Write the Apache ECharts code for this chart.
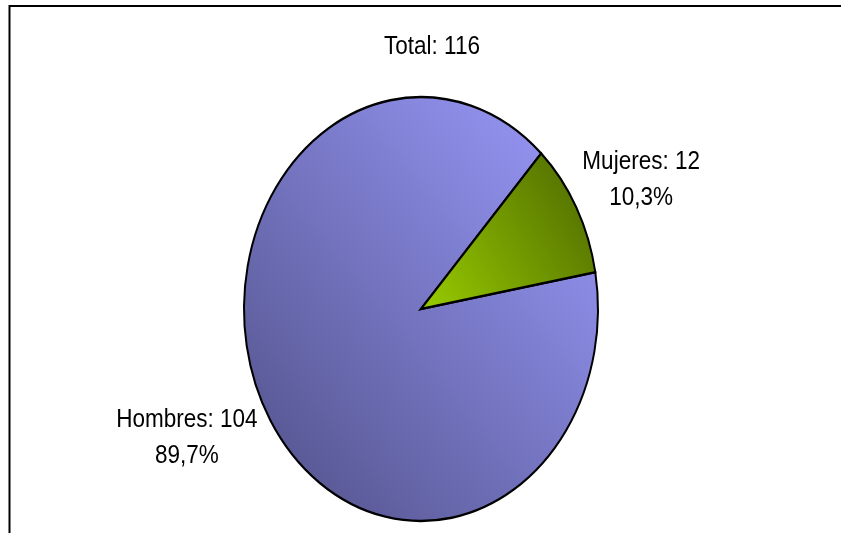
<!DOCTYPE html>
<html>
<head>
<meta charset="utf-8">
<script src="https://cdn.jsdelivr.net/npm/echarts@6/dist/echarts.min.js"></script>
<style>
  html, body { margin: 0; padding: 0; background: #fff; }
  #chart { width: 841px; height: 533px; }
</style>
</head>
<body>
<div id="chart"></div>
<script>
const categories = ["Hombres", "Mujeres"];
const values = [104, 12];

const total = values.reduce((a, b) => a + b, 0);
const FONT = '"Liberation Sans", Arial, sans-serif';
const FONT_SIZE = 25;
const TEXT_SX = 0.9; // the original font is a bit condensed
// [light, dark] for each slice
const COLORS = [
  ["#9c9cff", "#4f4f86"],
  ["#99cc00", "#4a6400"]
];

// the pie is an ellipse, taller than wide
const cx = 421, cy = 309, rx = 177, ry = 212;
const startAngle = 10; // degrees, counterclockwise from 3 o'clock

let acc = -startAngle * Math.PI / 180;
const angles = values.map(v => {
  const a0 = acc;
  acc += v / total * Math.PI * 2;
  return [a0, acc];
});

const ctx = document.createElement("canvas").getContext("2d");
ctx.font = FONT_SIZE + "px " + FONT;
function textWidth(s) {
  return ctx.measureText(s).width * TEXT_SX;
}

function pct(v) {
  return (v / total * 100).toFixed(1).replace(".", ",") + "%";
}

let chart = echarts.init(document.getElementById("chart"));
let options = {
  animation: false,
  graphic: [
    {
      type: "rect",
      shape: { x: 9.5, y: 6, width: 900, height: 600 },
      style: { fill: "none", stroke: "#000", lineWidth: 2 },
      silent: true
    },
    {
      type: "text",
      x: 432,
      y: 47,
      scaleX: TEXT_SX,
      style: {
        text: "Total: " + total,
        fontSize: FONT_SIZE,
        fontFamily: FONT,
        fill: "#000",
        align: "center",
        verticalAlign: "middle"
      }
    }
  ],
  series: [
    {
      type: "custom",
      coordinateSystem: "none",
      data: values,
      renderItem: function (params, api) {
        let i = params.dataIndex;
        let a0 = angles[i][0], a1 = angles[i][1];
        let mid = (a0 + a1) / 2;
        let ex = cx + rx * Math.cos(mid);
        let ey = cy + ry * Math.sin(mid);
        let right = Math.cos(mid) >= 0;
        let lines = [categories[i] + ": " + api.value(0), pct(api.value(0))];
        let w = Math.max(...lines.map(textWidth));
        let lx = ex + (right ? 6 + w / 2 : -8 - w / 2);
        let ly = ey + Math.sin(mid) * 57;
        let grad = i === 0
          ? new echarts.graphic.LinearGradient(1, 0, 0, 1, [
              { offset: 0, color: COLORS[i][0] },
              { offset: 1, color: COLORS[i][1] }
            ])
          : new echarts.graphic.LinearGradient(0, 1, 1, 0, [
              { offset: 0, color: COLORS[i][0] },
              { offset: 1, color: COLORS[i][1] }
            ]);
        return {
          type: "group",
          children: [
            {
              type: "sector",
              shape: { cx: cx, cy: cy, r: rx, r0: 0, startAngle: a0, endAngle: a1, clockwise: true },
              originX: cx,
              originY: cy,
              scaleY: ry / rx,
              style: { fill: grad, stroke: "#000", lineWidth: 2, strokeNoScale: true }
            },
            {
              type: "text",
              x: lx,
              y: ly,
              scaleX: TEXT_SX,
              style: {
                text: lines.join("\n"),
                fontSize: FONT_SIZE,
                fontFamily: FONT,
                fill: "#000",
                align: "center",
                verticalAlign: "middle",
                lineHeight: 36
              }
            }
          ]
        };
      }
    }
  ]
};
chart.setOption(options);
</script>
</body>
</html>
